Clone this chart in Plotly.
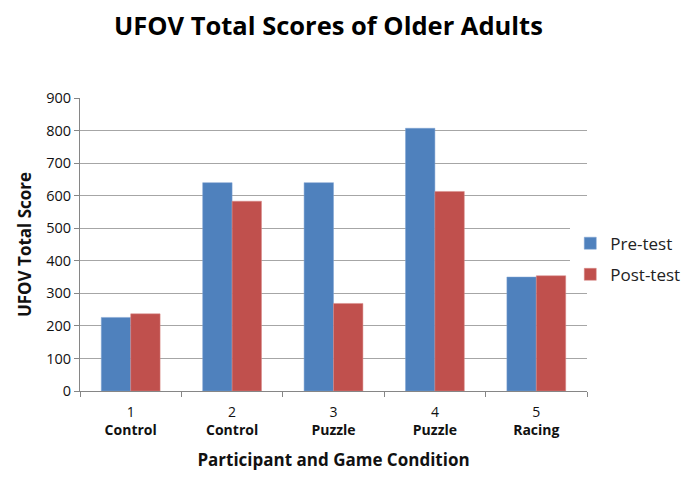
import plotly.graph_objects as go

participants = ["1", "2", "3", "4", "5"]
conditions = ["Control", "Control", "Puzzle", "Puzzle", "Racing"]
pre_test = [226, 640, 640, 807, 350]
post_test = [237, 583, 269, 613, 354]
y_ticks = [0, 100, 200, 300, 400, 500, 600, 700, 800, 900]

categories = [f"{p}<br><b>{c}</b>" for p, c in zip(participants, conditions)]

font_family = "Open Sans, Noto Sans, sans-serif"

fig = go.Figure()
fig.add_trace(go.Bar(name="Pre-test", x=categories, y=pre_test, legendgroup="pre",
                     marker=dict(color="#4F81BD", line=dict(color="#7FA3D3", width=0.5))))
fig.add_trace(go.Bar(name="Post-test", x=categories, y=post_test, legendgroup="post",
                     marker=dict(color="#C0504D", line=dict(color="#D88A88", width=0.5))))

fig.update_layout(
    width=700, height=488,
    paper_bgcolor="white", plot_bgcolor="white",
    barmode="group", bargap=0.42, bargroupgap=0,
    margin=dict(l=72, r=121, t=90, b=105),
    title=dict(text="<b>UFOV Total Scores of Older Adults</b>", x=0.49, xanchor="center",
               xref="paper", y=0.962, yref="container", yanchor="middle",
               font=dict(family=font_family, size=25.5, color="#000000")),
    legend=dict(x=0.967, xanchor="left", y=0.45, yanchor="middle",
                font=dict(family=font_family, size=17, color="#222222"),
                tracegroupgap=6, itemwidth=30),
    font=dict(family=font_family, color="#222222"),
)
fig.update_xaxes(
    type="category", tickson="boundaries", ticks="outside", ticklen=5,
    tickcolor="#868686", showline=True, linecolor="#868686", linewidth=1,
    automargin=False, ticklabelstandoff=8,
    tickfont=dict(family=font_family, size=14, color="#111111"),
    title=dict(text="<b>Participant and Game Condition</b>",
               font=dict(family=font_family, size=17, color="#111111"), standoff=16),
)
fig.update_yaxes(
    range=[0, 900], tickvals=y_ticks, ticks="outside", ticklen=5, tickcolor="#868686",
    showline=True, linecolor="#868686", linewidth=1, automargin=False,
    showgrid=True, gridcolor="#A6A6A6", gridwidth=1, zeroline=False,
    tickfont=dict(family=font_family, size=14.5, color="#111111"),
    title=dict(text="<b>UFOV Total Score</b>",
               font=dict(family=font_family, size=17, color="#111111"), standoff=10),
)

fig.write_html("out.html")
